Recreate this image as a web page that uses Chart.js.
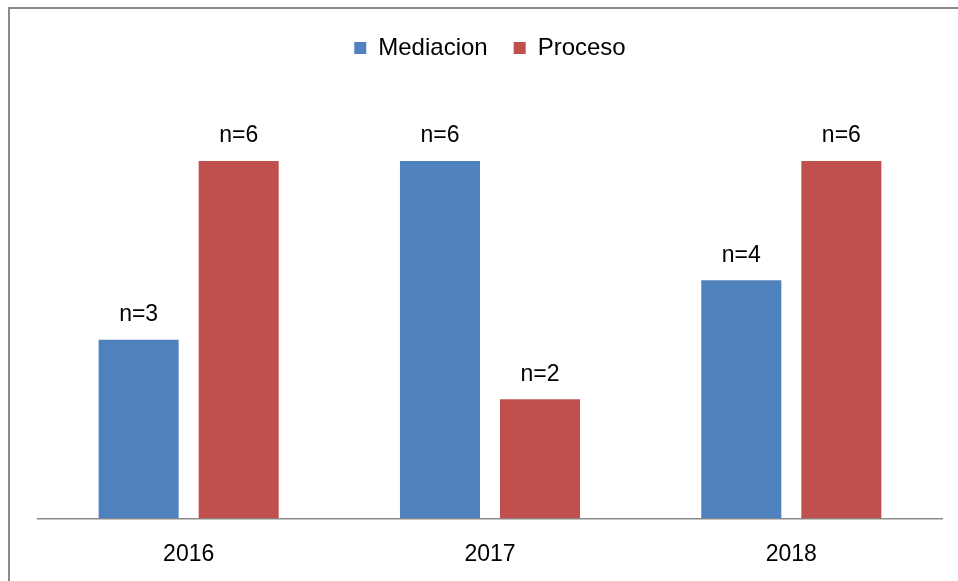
<!DOCTYPE html>
<html>
<head>
<meta charset="utf-8">
<script src="https://cdn.jsdelivr.net/npm/chart.js@4/dist/chart.umd.min.js"></script>
<style>
  body { margin: 0; background: #fff; }
  #wrap { position: relative; width: 958px; height: 581px; overflow: hidden; }
  #frame { position: absolute; left: 8px; top: 7px; width: 1000px; height: 700px;
           border-left: 2px solid #8a8a8a; border-top: 2px solid #8a8a8a; }
  canvas { position: absolute; left: 0; top: 0; }
</style>
</head>
<body>
<div id="wrap">
  <canvas id="chart" width="958" height="581"></canvas>
  <div id="frame"></div>
</div>
<script>
  // chart data
  const years = ["2016", "2017", "2018"];
  const mediacion = [3, 6, 4];
  const proceso = [6, 2, 6];

  const FONT = "'Liberation Sans', Arial, sans-serif";

  // draws "n=x" above each bar
  const barLabels = {
    id: "barLabels",
    afterDatasetsDraw(chart) {
      const ctx = chart.ctx;
      ctx.save();
      ctx.font = `23px ${FONT}`;
      ctx.fillStyle = "#000";
      ctx.textAlign = "center";
      ctx.textBaseline = "middle";
      chart.data.datasets.forEach((ds, i) => {
        chart.getDatasetMeta(i).data.forEach((bar, j) => {
          ctx.fillText(`n=${ds.data[j]}`, bar.x, bar.y - 25);
        });
      });
      ctx.restore();
    }
  };

  new Chart(document.getElementById("chart"), {
    type: "bar",
    data: {
      labels: years,
      datasets: [
        { label: "Mediacion", data: mediacion, backgroundColor: "#4F81BD" },
        { label: "Proceso", data: proceso, backgroundColor: "#C0504D" }
      ]
    },
    options: {
      responsive: false,
      animation: false,
      categoryPercentage: 0.664,
      barPercentage: 0.8,
      layout: { padding: { left: 38, right: 16, top: 10, bottom: -1 } },
      plugins: {
        legend: {
          labels: {
            boxWidth: 12,
            boxHeight: 12,
            padding: 26,
            color: "#000",
            font: { family: FONT, size: 24 }
          }
        },
        tooltip: { enabled: false }
      },
      scales: {
        x: {
          grid: { display: false },
          border: { color: "#8a8a8a", width: 1.5 },
          ticks: { color: "#000", padding: 14, font: { family: FONT, size: 23 } }
        },
        y: { display: false, min: 0, max: 7.53 }
      }
    },
    plugins: [barLabels]
  });
</script>
</body>
</html>
